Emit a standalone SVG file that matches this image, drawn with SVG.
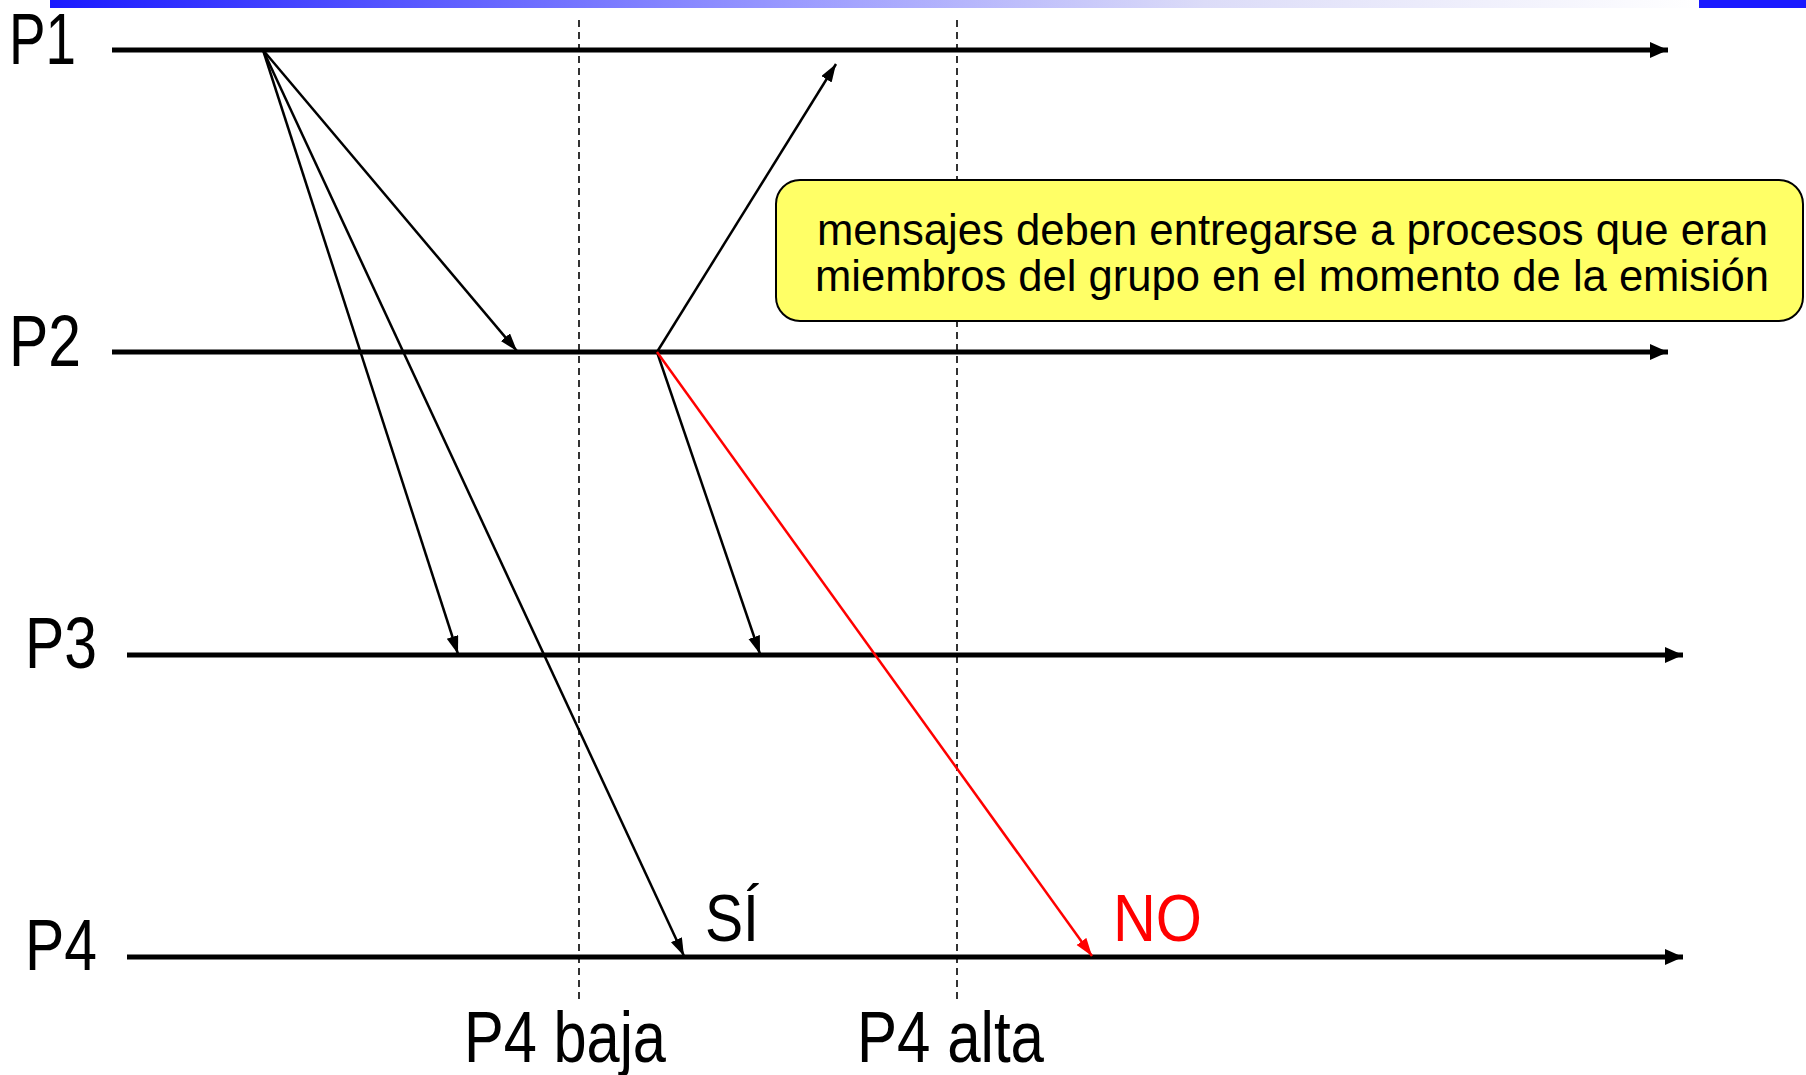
<svg xmlns="http://www.w3.org/2000/svg" width="1806" height="1075" viewBox="0 0 1806 1075">
<style>
.lbl{font-family:"Liberation Sans",Arial,sans-serif;fill:#000}
.big{font-size:72px}
.note{font-size:44px}
.tl{stroke:#000;stroke-width:5;fill:none}
.msg{stroke:#000;stroke-width:2.5;fill:none}
.red{stroke:#ff0000;stroke-width:2.5;fill:none}
.dash{stroke:#000;stroke-width:1.6;stroke-dasharray:7 5;fill:none}
</style>
<defs>
<linearGradient id="bar" x1="0" y1="0" x2="1" y2="0">
<stop offset="0" stop-color="#1a1aff"/>
<stop offset="0.45" stop-color="#9a9aff"/>
<stop offset="0.7" stop-color="#dcdcf8"/>
<stop offset="1" stop-color="#ffffff"/>
</linearGradient>
<marker id="ah" markerUnits="userSpaceOnUse" markerWidth="20" markerHeight="18" refX="18" refY="8" orient="auto">
<path d="M0,0 L18,8 L0,16 z" fill="#000"/>
</marker>
<marker id="am" markerUnits="userSpaceOnUse" markerWidth="20" markerHeight="14" refX="18" refY="6" orient="auto">
<path d="M0,0 L18,6 L0,12 z" fill="#000"/>
</marker>
<marker id="ar" markerUnits="userSpaceOnUse" markerWidth="20" markerHeight="14" refX="18" refY="6" orient="auto">
<path d="M0,0 L18,6 L0,12 z" fill="#ff0000"/>
</marker>
</defs>
<rect x="0" y="0" width="1806" height="1075" fill="#fff"/>
<rect x="50" y="0" width="1649" height="8" fill="url(#bar)"/>
<rect x="1699" y="0" width="107" height="8" fill="#1a1aff"/>

<g id="membership-changes">
<line class="dash" x1="579" y1="20" x2="579" y2="1003"/>
<line class="dash" x1="957" y1="20" x2="957" y2="1003"/>
<text class="lbl big" x="464" y="1062" textLength="202" lengthAdjust="spacingAndGlyphs">P4 baja</text>
<text class="lbl big" x="857" y="1062" textLength="187" lengthAdjust="spacingAndGlyphs">P4 alta</text>
</g>

<g id="P1">
<text class="lbl big" x="9" y="64" textLength="67" lengthAdjust="spacingAndGlyphs">P1</text>
<line class="tl" x1="112" y1="50" x2="1668" y2="50" marker-end="url(#ah)"/>
</g>
<g id="P2">
<text class="lbl big" x="9" y="366" textLength="72" lengthAdjust="spacingAndGlyphs">P2</text>
<line class="tl" x1="112" y1="352" x2="1668" y2="352" marker-end="url(#ah)"/>
</g>
<g id="P3">
<text class="lbl big" x="25" y="668" textLength="72" lengthAdjust="spacingAndGlyphs">P3</text>
<line class="tl" x1="127" y1="655" x2="1683" y2="655" marker-end="url(#ah)"/>
</g>
<g id="P4">
<text class="lbl big" x="25" y="970" textLength="72" lengthAdjust="spacingAndGlyphs">P4</text>
<line class="tl" x1="127" y1="957" x2="1683" y2="957" marker-end="url(#ah)"/>
</g>

<g id="connectors">
<line class="msg" x1="263" y1="50" x2="517" y2="351" marker-end="url(#am)"/>
<line class="msg" x1="263" y1="50" x2="458" y2="654" marker-end="url(#am)"/>
<line class="msg" x1="263" y1="50" x2="684" y2="956" marker-end="url(#am)"/>
<line class="msg" x1="657" y1="352" x2="836" y2="64" marker-end="url(#am)"/>
<line class="msg" x1="657" y1="352" x2="760" y2="654" marker-end="url(#am)"/>
<line class="red" x1="657" y1="352" x2="1092" y2="956" marker-end="url(#ar)"/>
</g>

<g id="result-labels">
<text class="lbl" x="705" y="941" font-size="66" textLength="54" lengthAdjust="spacingAndGlyphs">SÍ</text>
<text class="lbl" x="1113" y="941" font-size="66" style="fill:#ff0000" textLength="89" lengthAdjust="spacingAndGlyphs">NO</text>
</g>

<g id="note">
<rect x="776" y="180" width="1027" height="141" rx="24" ry="24" fill="#ffff66" stroke="#000" stroke-width="2"/>
<text class="lbl note" x="817" y="245" textLength="951" lengthAdjust="spacingAndGlyphs">mensajes deben entregarse a procesos que eran</text>
<text class="lbl note" x="815" y="291" textLength="954" lengthAdjust="spacingAndGlyphs">miembros del grupo en el momento de la emisión</text>
</g>
</svg>
